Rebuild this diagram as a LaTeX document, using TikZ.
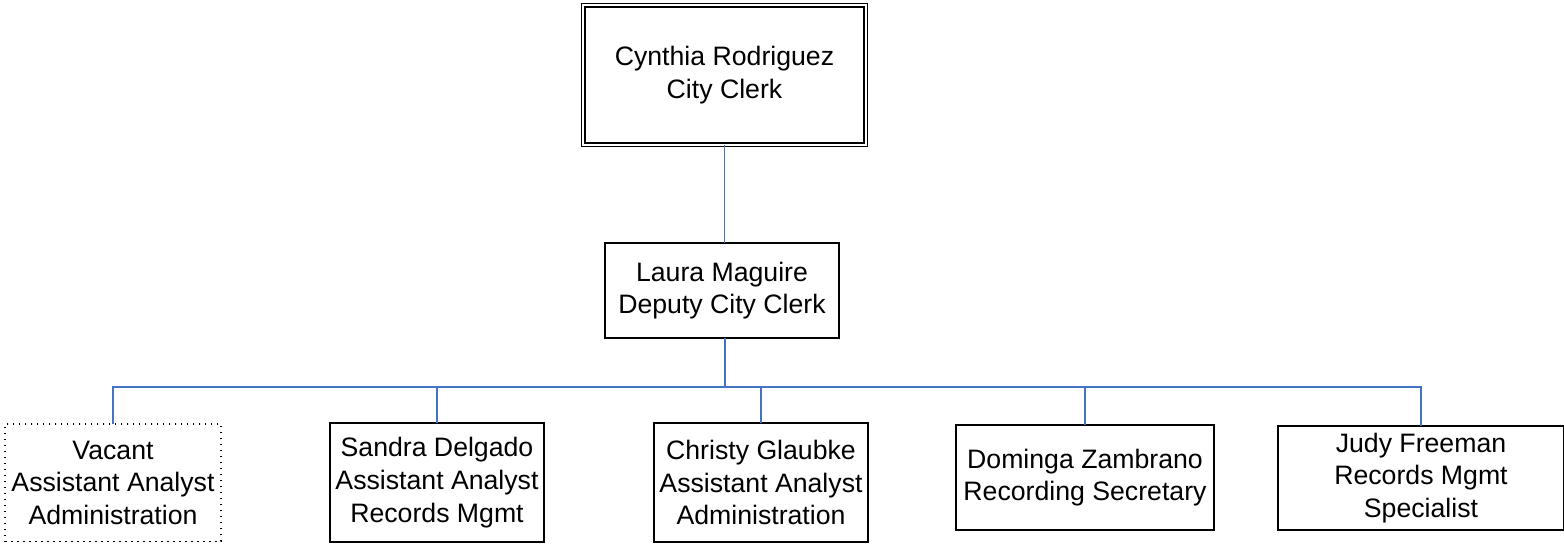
\documentclass[tikz,border=0pt]{standalone}
\usepackage{fontspec}
\setmainfont{Liberation Sans}
\definecolor{lineblue}{RGB}{68,114,196}
\begin{document}
\begin{tikzpicture}[x=0.75pt,y=-0.75pt,
  box/.style={draw=black, line width=1.5pt, inner sep=0pt, outer sep=0pt, align=center,
    font=\fontsize{20}{24.5}\selectfont},
  dbox/.style={box, line width=1pt, double=white, double distance=1.6pt},
  vbox/.style={box, line width=1.3pt, dash pattern=on 1.2pt off 3.3pt},
  conn/.style={draw=lineblue, line width=1.1pt}]
\useasboundingbox (0,0) rectangle (1564,545);
\node[dbox, minimum width=211.8pt, minimum height=104.5pt] (top) at (724.5,75) {Cynthia Rodriguez\\City Clerk};
\node[box, minimum width=175.5pt, minimum height=71.25pt] (laura) at (722,290.5) {Laura Maguire\\Deputy City Clerk};
\node[vbox, minimum width=162pt, minimum height=88pt] (vacant) at (113,482.75) {Vacant\\Assistant Analyst\\Administration};
\node[box, minimum width=160.5pt, minimum height=89.25pt] (sandra) at (437,482.5) {Sandra Delgado\\Assistant Analyst\\Records Mgmt};
\node[box, minimum width=160.5pt, minimum height=89.25pt] (christy) at (761,482.5) {Christy Glaubke\\Assistant Analyst\\Administration};
\node[box, minimum width=193.5pt, minimum height=78.75pt] (dominga) at (1085,477.5) {Dominga Zambrano\\Recording Secretary};
\node[box, minimum width=214.5pt, minimum height=78pt] (judy) at (1421,478) {Judy Freeman\\Records Mgmt\\Specialist};
\coordinate (bus) at (725,387);
\draw[conn] (top.south) -- (top.south |- laura.north);
\draw[conn] (bus |- laura.south) -- (bus);
\draw[conn] (vacant.north) |- (bus) -| (judy.north);
\draw[conn] (sandra.north) -- (sandra.north |- bus);
\draw[conn] (christy.north) -- (christy.north |- bus);
\draw[conn] (dominga.north) -- (dominga.north |- bus);
\end{tikzpicture}
\end{document}
